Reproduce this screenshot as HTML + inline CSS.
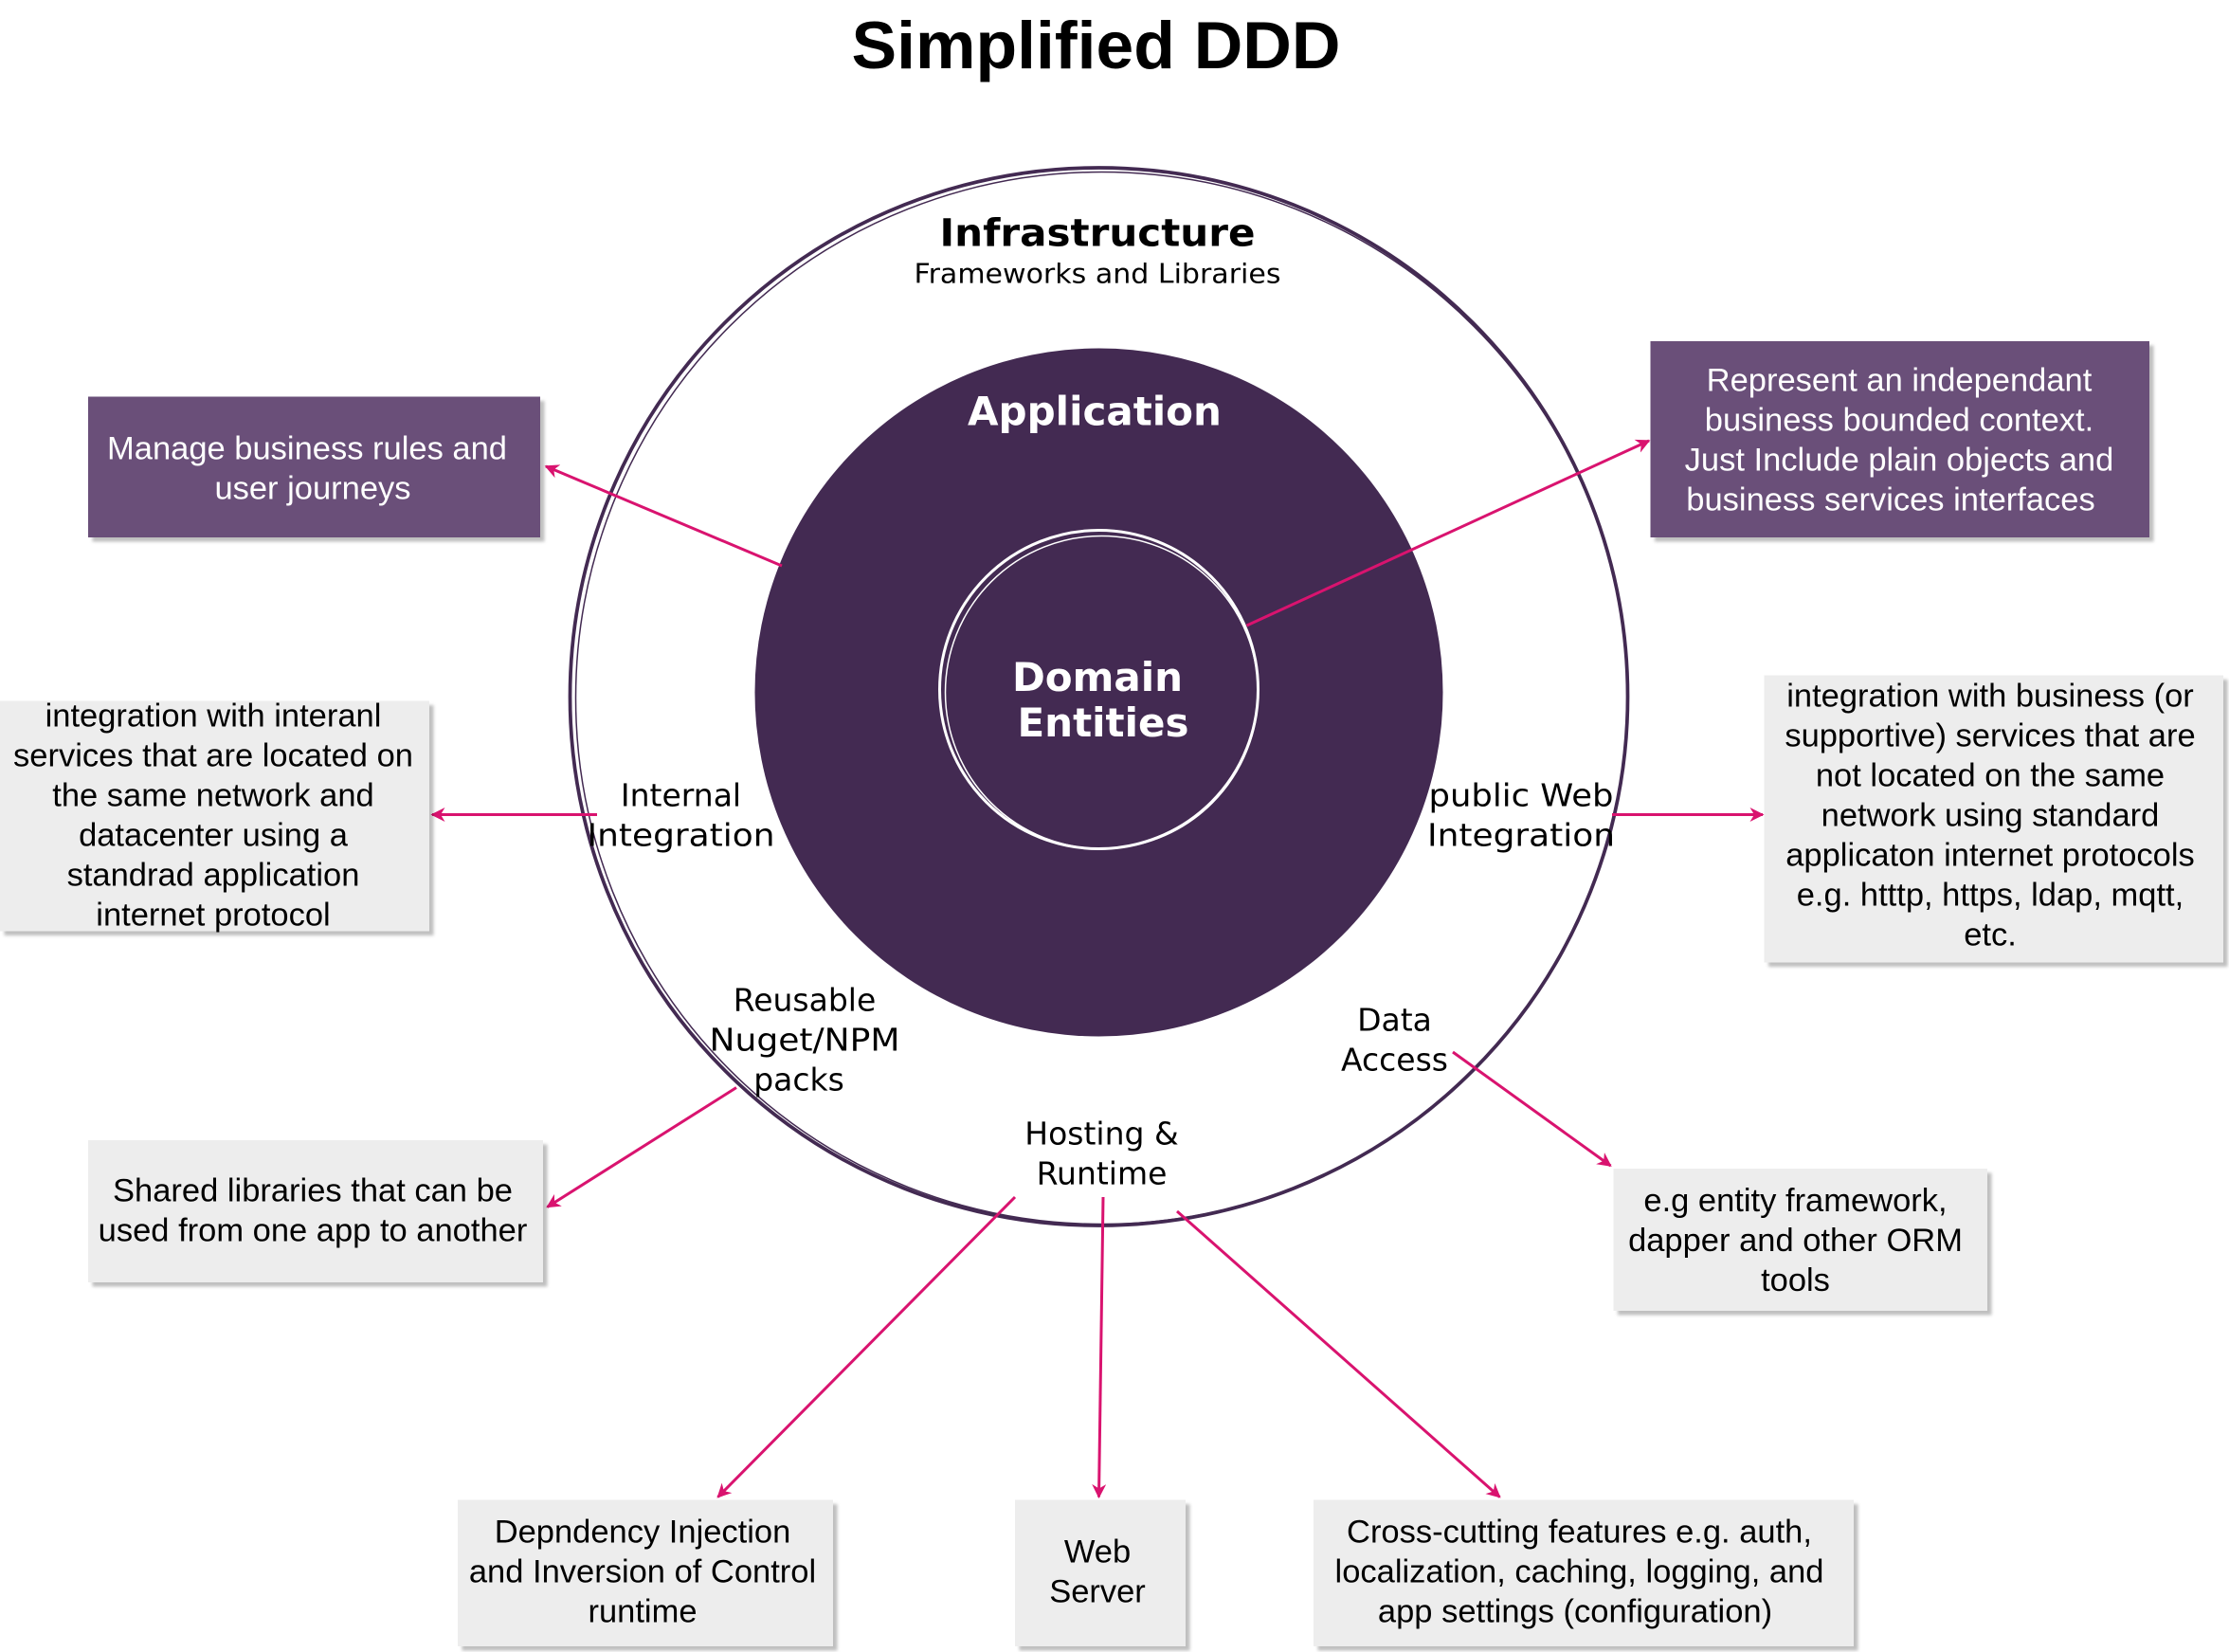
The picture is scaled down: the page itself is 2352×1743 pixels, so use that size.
<!DOCTYPE html>
<html><head><meta charset="utf-8"><style>
html,body{margin:0;padding:0;background:#fff;}
svg{display:block;}
.t{font-family:"Liberation Sans",sans-serif;}
.d{font-family:"DejaVu Sans",sans-serif;}
</style></head><body>
<svg width="2352" height="1743" viewBox="0 0 1568 1162" xmlns="http://www.w3.org/2000/svg">
<defs>
<marker id="a" markerWidth="10" markerHeight="10" refX="9" refY="5" orient="auto" markerUnits="userSpaceOnUse" viewBox="0 0 10 10">
<path d="M0,0 L10,5 L0,10 L3,5 Z" fill="#d9136f"/></marker>
<filter id="s" x="-5%" y="-5%" width="115%" height="120%"><feDropShadow dx="3" dy="3" stdDeviation="1" flood-color="#000" flood-opacity="0.25"/></filter>
</defs>
<text x="771" y="48" text-anchor="middle" class="t" font-size="47" font-weight="bold" fill="#000" textLength="344" lengthAdjust="spacingAndGlyphs">Simplified DDD</text>

<circle cx="773" cy="490" r="372" fill="#fff" stroke="#432a52" stroke-width="2.5"/>
<circle cx="775" cy="491" r="370" fill="none" stroke="#432a52" stroke-width="1"/>
<circle cx="773" cy="487" r="242" fill="#432a52"/>
<circle cx="773" cy="485" r="112" fill="none" stroke="#fff" stroke-width="2"/>
<circle cx="775" cy="487" r="110" fill="none" stroke="#fff" stroke-width="1"/>

<text x="772" y="173" text-anchor="middle" class="d" font-size="27" font-weight="bold" textLength="222" lengthAdjust="spacingAndGlyphs">Infrastructure</text>
<text x="772" y="199" text-anchor="middle" class="d" font-size="19" textLength="258" lengthAdjust="spacingAndGlyphs">Frameworks and Libraries</text>
<text x="770" y="299" text-anchor="middle" class="d" font-size="28" font-weight="bold" fill="#fff">Application</text>
<text x="772" y="486" text-anchor="middle" class="d" font-size="28" font-weight="bold" fill="#fff">Domain</text>
<text x="776" y="518" text-anchor="middle" class="d" font-size="28" font-weight="bold" fill="#fff">Entities</text>

<g class="d" font-size="22" text-anchor="middle" fill="#000">
<text x="479" y="567">Internal</text><text x="479" y="595" textLength="132" lengthAdjust="spacingAndGlyphs">Integration</text>
<text x="1070" y="567" textLength="130" lengthAdjust="spacingAndGlyphs">public Web</text><text x="1070" y="595" textLength="132" lengthAdjust="spacingAndGlyphs">Integration</text>
<text x="566" y="711">Reusable</text><text x="566" y="739" textLength="134" lengthAdjust="spacingAndGlyphs">Nuget/NPM</text><text x="562" y="767">packs</text>
<text x="981" y="725">Data</text><text x="981" y="753">Access</text>
<text x="775" y="805">Hosting &amp;</text><text x="775" y="833">Runtime</text>
</g>

<g stroke="#d9136f" stroke-width="2" marker-end="url(#a)">
<line x1="550" y1="398" x2="384" y2="328"/>
<line x1="877" y1="440" x2="1160" y2="310"/>
<line x1="420" y1="573" x2="304" y2="573"/>
<line x1="1134" y1="573" x2="1240" y2="573"/>
<line x1="518" y1="765" x2="385" y2="849"/>
<line x1="1022" y1="740" x2="1133" y2="820"/>
<line x1="714" y1="842" x2="505" y2="1053"/>
<line x1="776" y1="842" x2="773" y2="1053"/>
<line x1="828" y1="852" x2="1055" y2="1053"/>
</g>

<g filter="url(#s)">
<rect x="62" y="279" width="318" height="99" fill="#6b5079"/>
<rect x="1161" y="240" width="351" height="138" fill="#6b5079"/>
<rect x="0" y="493" width="302" height="162" fill="#ededed"/>
<rect x="1241" y="475" width="323" height="202" fill="#ededed"/>
<rect x="62" y="802" width="320" height="100" fill="#ededed"/>
<rect x="1135" y="822" width="263" height="100" fill="#ededed"/>
<rect x="322" y="1055" width="264" height="103" fill="#ededed"/>
<rect x="714" y="1055" width="120" height="103" fill="#ededed"/>
<rect x="924" y="1055" width="380" height="103" fill="#ededed"/>
</g>

<g class="t" font-size="23" text-anchor="middle">
<g fill="#fff">
<text x="216" y="323">Manage business rules and</text><text x="220" y="351">user journeys</text>
<text x="1336" y="275">Represent an independant</text><text x="1336" y="303">business bounded context.</text>
<text x="1336" y="331">Just Include plain objects and</text><text x="1330" y="359">business services interfaces</text>
</g>
<g fill="#000">
<text x="150" y="511">integration with interanl</text><text x="150" y="539">services that are located on</text>
<text x="150" y="567">the same network and</text><text x="150" y="595">datacenter using a</text>
<text x="150" y="623">standrad application</text><text x="150" y="651">internet protocol</text>
<text x="1400" y="497">integration with business (or</text><text x="1400" y="525">supportive) services that are</text>
<text x="1400" y="553">not located on the same</text><text x="1400" y="581">network using standard</text>
<text x="1400" y="609">applicaton internet protocols</text><text x="1400" y="637">e.g. htttp, https, ldap, mqtt,</text>
<text x="1400" y="665">etc.</text>
<text x="220" y="845">Shared libraries that can be</text><text x="220" y="873">used from one app to another</text>
<text x="1263" y="852">e.g entity framework,</text><text x="1263" y="880">dapper and other ORM</text><text x="1263" y="908">tools</text>
<text x="452" y="1085">Depndency Injection</text><text x="452" y="1113">and Inversion of Control</text><text x="452" y="1141">runtime</text>
<text x="772" y="1099">Web</text><text x="772" y="1127">Server</text>
<text x="1111" y="1085">Cross-cutting features e.g. auth,</text><text x="1111" y="1113">localization, caching, logging, and</text><text x="1108" y="1141">app settings (configuration)</text>
</g>
</g>
</svg>
</body></html>
